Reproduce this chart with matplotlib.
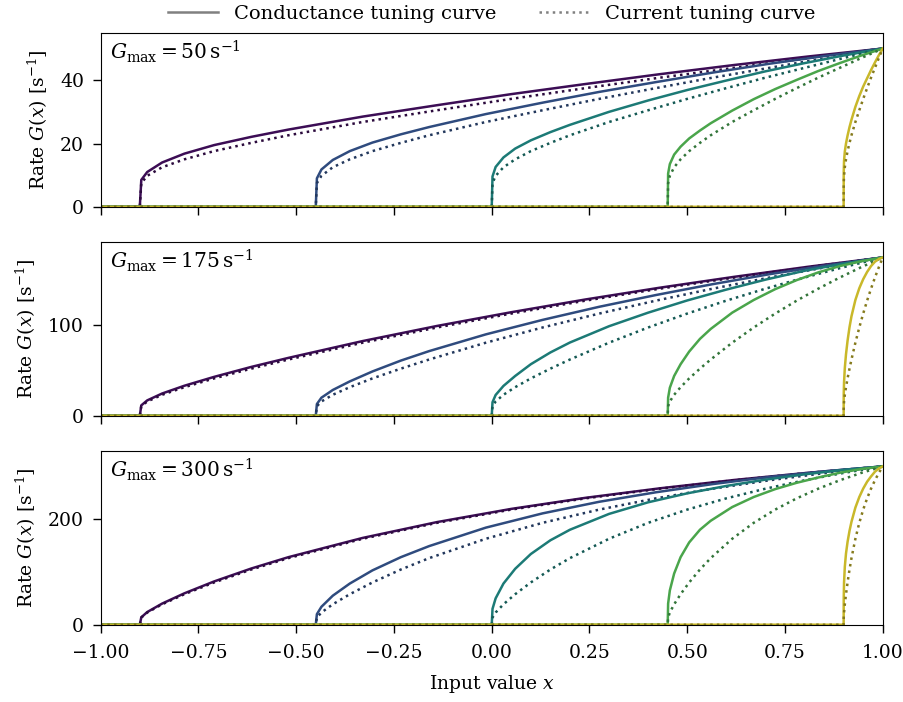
import numpy as np
import matplotlib
matplotlib.use("Agg")
import matplotlib.pyplot as plt
from matplotlib.lines import Line2D

plt.rcParams["font.family"] = "DejaVu Serif"
plt.rcParams["mathtext.fontset"] = "dejavuserif"
plt.rcParams["font.size"] = 13.5

# x-intercepts of the five neurons and the maximum rate of each panel
x_intercepts = [-0.9, -0.45, 0.0, 0.45, 0.9]
g_max = [50, 175, 300]

# samples along each curve, as a fraction of the way from intercept to x = 1
u_samples = [0, 0.002, 0.01, 0.03, 0.06, 0.1, 0.15, 0.2, 0.3, 0.4, 0.5, 0.6, 0.7, 0.8, 0.9, 1.0]

# current based tuning curve (same shape for every neuron of a panel)
current_50 = [0, 7.5, 9.8, 12.5, 15.0, 17.6, 20.2, 22.6, 26.8, 30.5, 34.1, 37.5, 40.8, 43.9, 47.0, 50]
current_175 = [0, 10.6, 15.8, 23.2, 31.6, 41.3, 52.1, 62.2, 80.8, 97.6, 113.0, 127.3, 140.5, 152.8, 164.3, 175]
current_300 = [0, 13.6, 23.1, 38.7, 57.8, 80.1, 104.6, 126.2, 162.9, 193.1, 218.2, 239.5, 257.8, 273.7, 287.7, 300]

# conductance based tuning curves, one row per neuron
conductance_50 = [
    [0, 8.5, 11.0, 14.0, 16.8, 19.5, 22.1, 24.4, 28.5, 32.1, 35.6, 38.8, 41.9, 44.8, 47.5, 50],
    [0, 9.0, 11.8, 14.8, 17.6, 20.3, 22.9, 25.2, 29.3, 32.9, 36.3, 39.4, 42.4, 45.2, 47.7, 50],
    [0, 9.6, 12.6, 15.6, 18.4, 21.0, 23.6, 25.9, 30.0, 33.6, 36.9, 39.9, 42.8, 45.4, 47.8, 50],
    [0, 10.5, 13.5, 16.5, 19.0, 21.6, 24.1, 26.4, 30.4, 34.0, 37.2, 40.1, 42.9, 45.4, 47.8, 50],
    [0, 11.0, 14.5, 17.5, 20.0, 22.5, 25.2, 27.5, 31.6, 35.0, 38.0, 40.6, 43.2, 45.6, 47.9, 50],
]
conductance_175 = [
    [0, 11.5, 17, 24.6, 33.2, 43, 54, 64, 82.6, 99.3, 114.5, 128.6, 141.6, 153.6, 164.8, 175],
    [0, 13, 20, 28.5, 38, 49, 61, 71.5, 90, 106, 120.5, 133.5, 145.5, 156.5, 166.2, 175],
    [0, 15, 23, 33, 44, 57, 70, 81, 99, 114, 127.5, 139.5, 150.5, 160.3, 168.2, 175],
    [0, 20, 31, 44, 57, 71, 85, 96, 114, 128, 140, 150, 158.5, 165.5, 170.8, 175],
    [0, 24, 37, 53, 68, 83, 98, 110, 128, 141, 151, 159, 165.5, 170.3, 173.3, 175],
]
conductance_300 = [
    [0, 14, 24, 40, 59.5, 82, 106.5, 128, 164.5, 194.5, 219.5, 240.5, 258.5, 274.3, 288, 300],
    [0, 20, 34, 55, 78, 103, 128, 149, 184, 211, 233, 251, 266.5, 280, 291, 300],
    [0, 30, 50, 78, 106, 134, 160, 180, 210, 232, 249, 263, 275, 285, 293.5, 300],
    [0, 40, 65, 97, 128, 156, 180, 197, 223, 242, 257, 269, 279, 288, 295, 300],
    [0, 50, 80, 110, 135, 157, 178, 195, 222, 242, 258, 271, 281, 290, 296, 300],
]

y_ticks = [[0, 20, 40], [0, 100], [0, 200]]

solid_colors = ["#3c0d55", "#2f4b7e", "#1c7a76", "#4aa54b", "#c9b82a"]
dotted_colors = ["#2b0a3d", "#22375c", "#145954", "#33753a", "#857a1c"]

panels = [
    (current_50, conductance_50),
    (current_175, conductance_175),
    (current_300, conductance_300),
]

fig, axes = plt.subplots(3, 1, figsize=(9.04, 7.02), dpi=100, sharex=True)
fig.subplots_adjust(left=0.1114, right=0.9765, top=0.9534, bottom=0.1101, hspace=0.2)

u = np.array(u_samples)
for k, ax in enumerate(axes):
    current, conductance = panels[k]
    for i, x0 in enumerate(x_intercepts):
        xs = np.concatenate([[-1.0], x0 + u * (1.0 - x0)])
        ax.plot(xs, [0] + conductance[i], color=solid_colors[i], lw=1.8,
                solid_joinstyle="round", zorder=2)
        ax.plot(xs, [0] + current, color=dotted_colors[i], lw=1.8, ls=":",
                zorder=2)
    ax.set_xlim(-1, 1)
    ax.set_ylim(0, 1.1 * g_max[k])
    ax.set_yticks(y_ticks[k])
    ax.set_ylabel("Rate $G(x)$ [s$^{-1}$]", labelpad=7)
    ax.tick_params(direction="out", length=6, width=1, pad=6)
    for s in ax.spines.values():
        s.set_linewidth(0.8)
    ax.text(0.012, 0.965, "$G_\\mathrm{max} = %d\\,\\mathrm{s}^{-1}$" % g_max[k],
            transform=ax.transAxes, ha="left", va="top", fontsize=14.5)

axes[-1].tick_params(axis="x", pad=8)
axes[-1].set_xlabel("Input value $x$", labelpad=8)

handles = [
    Line2D([], [], color="#808080", lw=1.8),
    Line2D([], [], color="#808080", lw=1.8, ls=":"),
]
axes[0].legend(handles, ["Conductance tuning curve", "Current tuning curve"],
               loc="lower center", bbox_to_anchor=(0.5, 1.045), ncol=2,
               frameon=False, handlelength=2.6, columnspacing=2.2,
               borderaxespad=0.0, borderpad=0.1, fontsize=14)

fig.savefig("out.png", dpi=100)
